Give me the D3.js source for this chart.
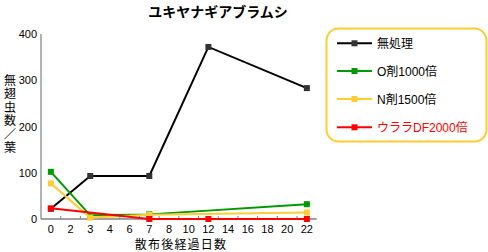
<!DOCTYPE html>
<html><head><meta charset="utf-8">
<script src="https://cdn.jsdelivr.net/npm/d3@7"></script>
<style>
body{margin:0;background:#fff;}
svg{display:block;font-family:"Liberation Sans","Noto Sans CJK JP",sans-serif;}
</style></head>
<body><svg id="c" width="488" height="252"></svg>
<script>
const title = "ユキヤナギアブラムシ";
const categories = ["0","2","3","4","6","7","8","10","12","14","16","18","20","22"];
const days = ["0","3","7","12","22"];
const seriesNames = ["無処理","O剤1000倍","N剤1500倍","ウララDF2000倍"];
const control = [22, 93, 93, 372, 283];
const oAgent = [102, 8, 10, null, 32];
const nAgent = [77, 3, 9, null, 14];
const urara = [23, null, 0, 0, 0];
const yTicks = [0, 100, 200, 300, 400];
const yLabel = "無翅虫数／葉";
const xLabel = "散布後経過日数";

const colors = ["#000000", "#009900", "#FFCC33", "#FF0000"];
const markerFill = ["#333333", "#009900", "#FFCC33", "#FF0000"];
const seriesValues = [control, oAgent, nAgent, urara];

const svg = d3.select("#c");
const x = d3.scaleBand().domain(categories).range([41, 316.7]);
const y = d3.scaleLinear().domain([0, 400]).range([219, 34]);
const cx = d => x(d) + x.bandwidth() / 2;

svg.append("text").attr("x", 218).attr("y", 17).attr("text-anchor", "middle")
  .attr("font-size", 14).attr("font-weight", "bold").text(title);

svg.append("line").attr("x1", 41).attr("x2", 41).attr("y1", y(400)).attr("y2", y(0))
  .attr("stroke", "#808080").attr("stroke-width", 1.2);
svg.selectAll(".yt").data(yTicks).enter().append("text")
  .attr("x", 37).attr("y", d => y(d) + 4).attr("text-anchor", "end")
  .attr("font-size", 11).text(d => d);

svg.selectAll(".yl").data(yLabel.split("")).enter().append("text")
  .attr("x", 10).attr("y", (d, i) => 85 + i * 13.4).attr("text-anchor", "middle")
  .attr("font-size", 12).text(d => d);

svg.append("line").attr("x1", 41).attr("x2", 316.7).attr("y1", y(0)).attr("y2", y(0))
  .attr("stroke", "#808080").attr("stroke-width", 1.5);
svg.selectAll(".xtick").data(categories.slice(1)).enter().append("line")
  .attr("x1", d => x(d)).attr("x2", d => x(d)).attr("y1", y(0)).attr("y2", y(0) - 3)
  .attr("stroke", "#808080");
svg.selectAll(".xt").data(categories).enter().append("text")
  .attr("x", d => cx(d)).attr("y", 233).attr("text-anchor", "middle")
  .attr("font-size", 11).text(d => d);
svg.append("text").attr("x", 181).attr("y", 249).attr("text-anchor", "middle")
  .attr("font-size", 12).attr("letter-spacing", 1.2).text(xLabel);

const line = d3.line().x(d => cx(d.day)).y(d => y(d.v));
seriesValues.forEach((vals, si) => {
  const pts = days.map((d, i) => ({day: d, v: vals[i]})).filter(p => p.v !== null);
  svg.append("path").attr("d", line(pts)).attr("fill", "none")
    .attr("stroke", colors[si]).attr("stroke-width", 2);
  svg.selectAll(".m" + si).data(pts).enter().append("rect")
    .attr("x", p => cx(p.day) - 3).attr("y", p => y(p.v) - 3)
    .attr("width", 6).attr("height", 6).attr("fill", markerFill[si]);
});

svg.append("rect").attr("x", 326.5).attr("y", 28.5).attr("width", 160).attr("height", 113)
  .attr("rx", 12).attr("fill", "#fff").attr("stroke", "#FFCC33").attr("stroke-width", 2);
const rowY = [43.3, 71, 99, 127.3];
seriesNames.forEach((n, i) => {
  svg.append("line").attr("x1", 337).attr("x2", 372).attr("y1", rowY[i]).attr("y2", rowY[i])
    .attr("stroke", colors[i]).attr("stroke-width", 2);
  svg.append("rect").attr("x", 351.5).attr("y", rowY[i] - 3).attr("width", 6).attr("height", 6)
    .attr("fill", markerFill[i]);
  svg.append("text").attr("x", 377).attr("y", rowY[i] + 4.5).attr("font-size", 12)
    .attr("fill", i === 3 ? "#FF0000" : "#000").text(n);
});
</script></body></html>
